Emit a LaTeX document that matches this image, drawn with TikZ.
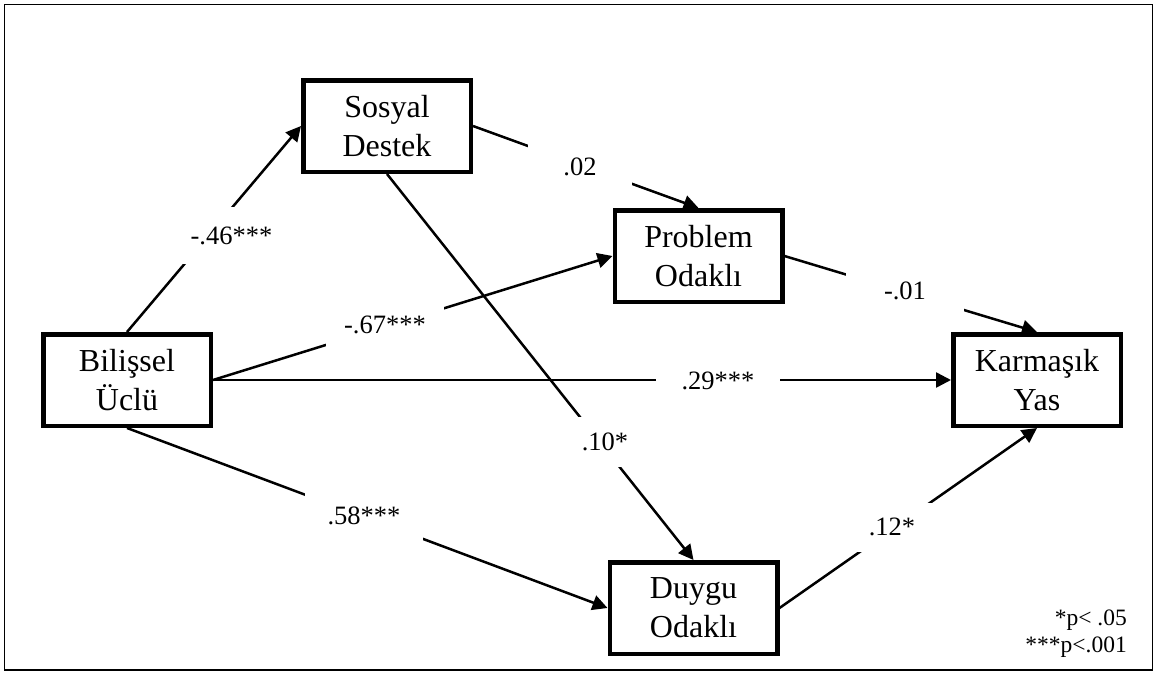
\documentclass[tikz,border=0pt]{standalone}
\usepackage{fontspec}
\setmainfont{Liberation Serif}
\usetikzlibrary{arrows.meta}
\begin{document}
\begin{tikzpicture}[x=1pt,y=-1pt,
  varbox/.style={draw, line width=4.5pt, rectangle, minimum width=167.5pt, minimum height=91.5pt,
    inner sep=0pt, align=center, font=\fontsize{32}{39}\selectfont, fill=white},
  conn/.style={line width=2.5pt, -{Triangle[length=15pt,width=15pt]}},
  lbl/.style={fill=white, inner sep=0pt, minimum width=118pt, minimum height=52pt,
    font=\fontsize{26.5}{30}\selectfont},
  note/.style={align=right, inner sep=0pt, font=\fontsize{23.5}{27}\selectfont}]
\useasboundingbox (0,0) rectangle (1157,675);
\draw[line width=1.7pt] (4.5,4.5) rectangle (1152.5,670);
% variables
\node[varbox] (B) at (127,380) {Bilişsel\\Üclü};
\node[varbox] (S) at (387,126) {Sosyal\\Destek};
\node[varbox] (P) at (698.5,256) {Problem\\Odaklı};
\node[varbox] (K) at (1037,380) {Karmaşık\\Yas};
\node[varbox] (D) at (693.5,608) {Duygu\\Odaklı};
% paths
\draw[conn] (B.north) -- (S.west);
\draw[conn] (S.east) -- (P.north);
\draw[conn] (B.east) -- (P.west);
\draw[conn] (B.east) -- (K.west);
\draw[conn] (S.south) -- (D.north);
\draw[conn] (P.east) -- (K.north);
\draw[conn] (B.south) -- (D.west);
\draw[conn] (D.east) -- (K.south);
% coefficients
\node[lbl, minimum height=57pt] (l1) at (231.5,235.5) {-.46***};
\node[lbl, minimum width=104pt] (l2) at (580,167) {.02};
\node[lbl] (l3) at (385,325) {-.67***};
\node[lbl, minimum width=124pt] (l4) at (718,381) {.29***};
\node[lbl, minimum height=50pt] (l5) at (605,442) {.10*};
\node[lbl] (l6) at (905,291) {-.01};
\node[lbl] (l7) at (364,516) {.58***};
\node[lbl, minimum height=49pt] (l8) at (892,527) {.12*};
% note
\node[note, anchor=east] (n) at (1127,634) {*p< .05\\***p<.001};
\end{tikzpicture}
\end{document}
